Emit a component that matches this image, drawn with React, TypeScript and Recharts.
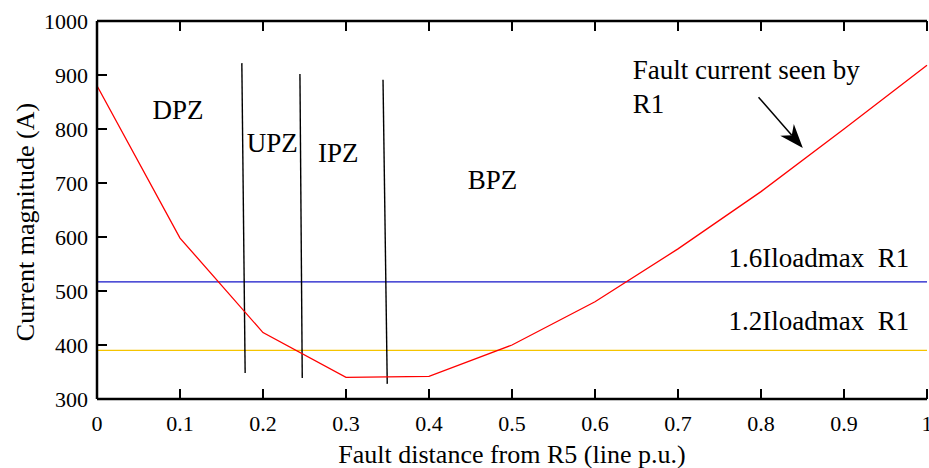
import { ComposedChart, Line, XAxis, YAxis, ReferenceLine, ReferenceDot } from 'recharts';
import type { JSX } from 'react';

// fault distance from R5 (p.u.) and current seen by R1 (A)
const distance = [0, 0.1, 0.2, 0.3, 0.4, 0.5, 0.6, 0.7, 0.8, 0.9, 1.0];
const currentR1 = [880, 598, 423, 340, 342, 400, 480, 578, 684, 800, 918];

const xTicks = [0, 0.1, 0.2, 0.3, 0.4, 0.5, 0.6, 0.7, 0.8, 0.9, 1];
const yTicks = [300, 400, 500, 600, 700, 800, 900, 1000];

const pickup16 = 517;
const pickup12 = 390;

// zone boundaries (slightly slanted in the original figure)
const zoneBounds = [
  [{ x: 0.1745, y: 922 }, { x: 0.1785, y: 348 }],
  [{ x: 0.2445, y: 902 }, { x: 0.2473, y: 339 }],
  [{ x: 0.3446, y: 891 }, { x: 0.3497, y: 328 }],
];

const zoneLabels = [
  { text: 'DPZ', x: 0.0977, y: 835 },
  { text: 'UPZ', x: 0.2111, y: 774 },
  { text: 'IPZ', x: 0.2907, y: 756 },
  { text: 'BPZ', x: 0.4765, y: 706 },
];

const noteLabels = [
  { text: 'Fault current seen by', x: 0.6454, y: 909, anchor: 'start' },
  { text: 'R1', x: 0.6454, y: 846, anchor: 'start' },
  { text: '1.6Iloadmax  R1', x: 0.8697, y: 561, anchor: 'middle' },
  { text: '1.2Iloadmax  R1', x: 0.8697, y: 444, anchor: 'middle' },
];

const arrowSeg = [{ x: 0.797, y: 859 }, { x: 0.8504, y: 765 }];

const data = distance.map((d, i) => ({ x: d, current: currentR1[i] }));

const FONT = '"Liberation Serif", "Times New Roman", serif';

function fmt(v: number): string {
  return v === 0 ? '0' : v === 1 ? '1' : v.toFixed(1);
}

function BottomTick({ x = 0, y = 0, payload }: any): JSX.Element {
  return (
    <g>
      <line x1={x} y1={y} x2={x} y2={y - 10} stroke="#000" strokeWidth={2} />
      <text x={x} y={y + 32} textAnchor="middle" fontSize={22} fontFamily={FONT} fill="#000">
        {fmt(payload.value)}
      </text>
    </g>
  );
}

function TopTick({ x = 0, y = 0 }: any): JSX.Element {
  return <line x1={x} y1={y} x2={x} y2={y + 10} stroke="#000" strokeWidth={2} />;
}

function LeftTick({ x = 0, y = 0, payload }: any): JSX.Element {
  return (
    <g>
      <line x1={x} y1={y} x2={x + 10} y2={y} stroke="#000" strokeWidth={2} />
      <text x={x - 9} y={y + 8} textAnchor="end" fontSize={22} fontFamily={FONT} fill="#000">
        {payload.value}
      </text>
    </g>
  );
}

function RightTick({ x = 0, y = 0 }: any): JSX.Element {
  return <line x1={x} y1={y} x2={x - 7} y2={y} stroke="#000" strokeWidth={2} />;
}

function Arrow(props: any): JSX.Element {
  const { x1, y1, x2, y2 } = props;
  const dx = x2 - x1;
  const dy = y2 - y1;
  const len = Math.sqrt(dx * dx + dy * dy) || 1;
  const ux = dx / len;
  const uy = dy / len;
  const px = -uy;
  const py = ux;
  const hl = 24;
  const hw = 9;
  const bx = x2 - ux * hl;
  const by = y2 - uy * hl;
  const nx = x2 - ux * hl * 0.7;
  const ny = y2 - uy * hl * 0.7;
  const pts = `${x2},${y2} ${bx + px * hw},${by + py * hw} ${nx},${ny} ${bx - px * hw},${by - py * hw}`;
  return (
    <g>
      <line x1={x1} y1={y1} x2={nx} y2={ny} stroke="#000" strokeWidth={1.5} />
      <polygon points={pts} fill="#000" />
    </g>
  );
}

export default function App(): JSX.Element {
  return (
    <div style={{ position: 'absolute', left: 0, top: 0, width: 929, height: 468, background: '#fff', overflow: 'hidden' }}>
      <ComposedChart width={929} height={468} data={data} margin={{ top: 0, right: 0, bottom: 0, left: 0 }}>
        <XAxis
          type="number"
          dataKey="x"
          domain={[0, 1]}
          ticks={xTicks}
          interval={0}
          height={69}
          tickSize={0}
          tickMargin={0}
          tickLine={false}
          axisLine={{ stroke: '#000', strokeWidth: 2.5 }}
          tick={<BottomTick />}
          label={{
            content: () => (
              <text x={512} y={463} textAnchor="middle" fontSize={26} fontFamily={FONT} fill="#000">
                Fault distance from R5 (line p.u.)
              </text>
            ),
          }}
        />
        <XAxis
          xAxisId="top"
          orientation="top"
          type="number"
          dataKey="x"
          domain={[0, 1]}
          ticks={xTicks}
          interval={0}
          height={21}
          tickSize={0}
          tickMargin={0}
          tickLine={false}
          axisLine={{ stroke: '#000', strokeWidth: 2.5 }}
          tick={<TopTick />}
        />
        <YAxis
          type="number"
          domain={[300, 1000]}
          ticks={yTicks}
          interval={0}
          width={97}
          tickSize={0}
          tickMargin={0}
          tickLine={false}
          axisLine={{ stroke: '#000', strokeWidth: 2.5 }}
          tick={<LeftTick />}
          label={{
            content: () => (
              <text
                x={25}
                y={222}
                transform="rotate(-90, 25, 222)"
                textAnchor="middle"
                dominantBaseline="central"
                fontSize={26}
                fontFamily={FONT}
                fill="#000"
              >
                Current magnitude (A)
              </text>
            ),
          }}
        />
        <YAxis
          yAxisId="r"
          orientation="right"
          type="number"
          domain={[300, 1000]}
          ticks={yTicks}
          interval={0}
          width={2}
          tickSize={0}
          tickMargin={0}
          tickLine={false}
          axisLine={false}
          tick={<RightTick />}
        />

        <ReferenceLine y={pickup16} stroke="#1414c8" strokeWidth={1.3} />
        <ReferenceLine y={pickup12} stroke="#f5c400" strokeWidth={1.3} />

        {zoneBounds.map((seg, i) => (
          <ReferenceLine key={`z${i}`} segment={seg} stroke="#000" strokeWidth={1.4} ifOverflow="visible" />
        ))}

        <Line
          type="linear"
          dataKey="current"
          stroke="#ff0000"
          strokeWidth={1.3}
          dot={false}
          activeDot={false}
          isAnimationActive={false}
        />

        {zoneLabels.map((l) => (
          <ReferenceDot
            key={l.text}
            x={l.x}
            y={l.y}
            r={0}
            ifOverflow="visible"
            shape={(p: any) => (
              <text x={p.cx} y={p.cy} textAnchor="middle" dominantBaseline="central" fontSize={27} fontFamily={FONT} fill="#000">
                {l.text}
              </text>
            )}
          />
        ))}

        {noteLabels.map((l) => (
          <ReferenceDot
            key={l.text + l.y}
            x={l.x}
            y={l.y}
            r={0}
            ifOverflow="visible"
            shape={(p: any) => (
              <text
                x={p.cx}
                y={p.cy}
                textAnchor={l.anchor as any}
                dominantBaseline="central"
                fontSize={27}
                fontFamily={FONT}
                fill="#000"
                style={{ whiteSpace: 'pre' }}
              >
                {l.text}
              </text>
            )}
          />
        ))}

        <ReferenceLine segment={arrowSeg} ifOverflow="visible" shape={(p: any) => <Arrow {...p} />} />
      </ComposedChart>
    </div>
  );
}
